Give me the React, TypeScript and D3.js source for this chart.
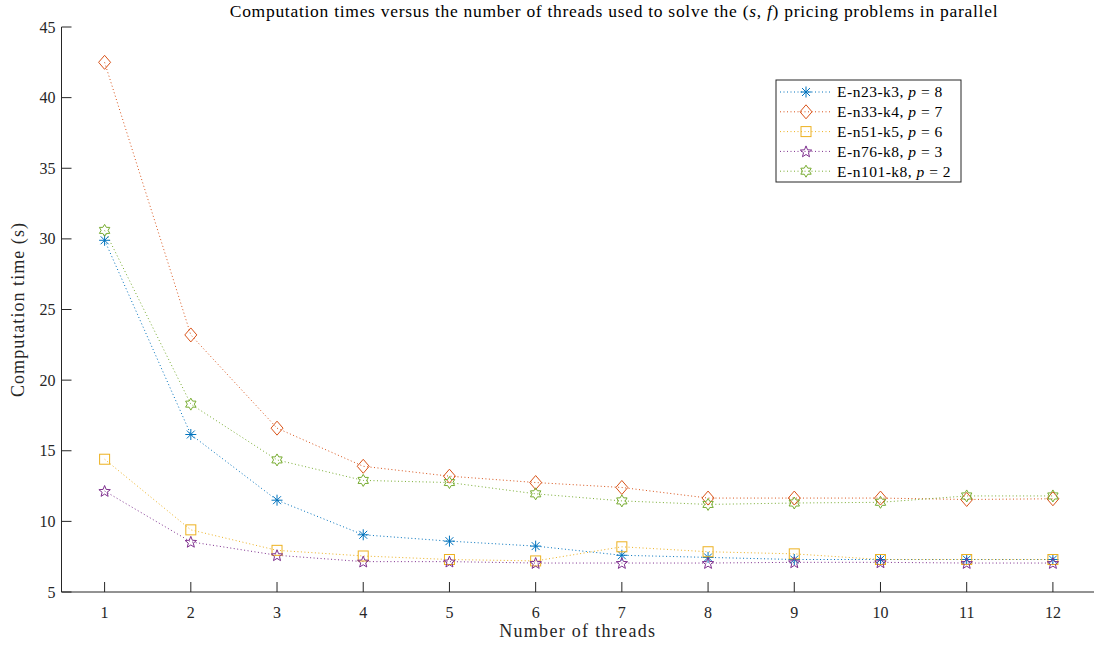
import React from "react";
import * as d3 from "d3";

const threads = [1, 2, 3, 4, 5, 6, 7, 8, 9, 10, 11, 12];
const yTicks = [5, 10, 15, 20, 25, 30, 35, 40, 45];
const seriesNames = ["E-n23-k3", "E-n33-k4", "E-n51-k5", "E-n76-k8", "E-n101-k8"];
const seriesP = [8, 7, 6, 3, 2];
const seriesColors = ["#0072BD", "#D95319", "#EDB120", "#7E2F8E", "#77AC30"];
const seriesMarkers = ["asterisk", "diamond", "square", "pentagram", "hexagram"];
const sN23 = [29.9, 16.15, 11.5, 9.05, 8.6, 8.25, 7.6, 7.45, 7.3, 7.3, 7.3, 7.3];
const sN33 = [42.5, 23.2, 16.6, 13.9, 13.2, 12.75, 12.4, 11.65, 11.65, 11.65, 11.55, 11.6];
const sN51 = [14.4, 9.4, 7.95, 7.55, 7.3, 7.2, 8.2, 7.85, 7.7, 7.3, 7.3, 7.3];
const sN76 = [12.15, 8.55, 7.6, 7.15, 7.15, 7.05, 7.05, 7.05, 7.1, 7.1, 7.05, 7.05];
const sN101 = [30.6, 18.3, 14.35, 12.9, 12.75, 11.95, 11.45, 11.2, 11.3, 11.35, 11.8, 11.8];
const seriesValues = [sN23, sN33, sN51, sN76, sN101];

const FONT = "'Liberation Serif', 'DejaVu Serif', serif";
const AX = "#262626";

function starPath(n: number, ro: number, ri: number) {
  const pts: [number, number][] = [];
  for (let i = 0; i < 2 * n; i++) {
    const a = -Math.PI / 2 + (i * Math.PI) / n;
    const r = i % 2 === 0 ? ro : ri;
    pts.push([r * Math.cos(a), r * Math.sin(a)]);
  }
  return "M" + pts.map((p) => p[0].toFixed(2) + "," + p[1].toFixed(2)).join("L") + "Z";
}

function Marker({ type, x, y, color }: { type: string; x: number; y: number; color: string }) {
  const common = { fill: "none", stroke: color, strokeWidth: 1 };
  if (type === "asterisk") {
    const r = 5.5;
    const d = r * 0.72;
    return (
      <g transform={`translate(${x},${y})`} {...common}>
        <line x1={0} y1={-r} x2={0} y2={r} />
        <line x1={-r} y1={0} x2={r} y2={0} />
        <line x1={-d} y1={-d} x2={d} y2={d} />
        <line x1={-d} y1={d} x2={d} y2={-d} />
      </g>
    );
  }
  if (type === "diamond") {
    return <path transform={`translate(${x},${y})`} d="M0,-7L6,0L0,7L-6,0Z" {...common} />;
  }
  if (type === "square") {
    return <rect x={x - 5} y={y - 5} width={10} height={10} {...common} />;
  }
  if (type === "pentagram") {
    return <path transform={`translate(${x},${y + 0.5})`} d={starPath(5, 6, 2.6)} {...common} />;
  }
  return <path transform={`translate(${x},${y})`} d={starPath(6, 6, 3.5)} {...common} />;
}

export default function App() {
  const W = 1094;
  const H = 648;
  const left = 61.5;
  const right = 1096;
  const top = 27;
  const bottom = 592;
  const x = d3.scaleLinear().domain([0.5, 12.5]).range([left, right]);
  const y = d3.scaleLinear().domain([5, 45]).range([bottom, top]);
  const line = d3
    .line<number>()
    .x((_, i) => x(threads[i]))
    .y((v) => y(v));

  const legX = 776;
  const legY = 80;
  const legW = 185;
  const legH = 102;
  const rowY = (i: number) => legY + 12 + i * 19.8;

  return (
    <svg
      width={W}
      height={H}
      style={{ position: "absolute", left: 0, top: 0, background: "#fff" }}
      fontFamily={FONT}
    >
      <rect width={W} height={H} fill="#fff" />
      {seriesValues.map((vals, si) => (
        <path
          key={"l" + si}
          d={line(vals) || ""}
          fill="none"
          stroke={seriesColors[si]}
          strokeWidth={1}
          strokeDasharray="1,2.5"
        />
      ))}
      {seriesValues.map((vals, si) =>
        vals.map((v, i) => (
          <Marker key={"m" + si + "-" + i} type={seriesMarkers[si]} x={x(threads[i])} y={y(v)} color={seriesColors[si]} />
        ))
      )}
      <line x1={left} y1={top} x2={left} y2={bottom} stroke={AX} strokeWidth={1} />
      <line x1={left} y1={bottom} x2={W} y2={bottom} stroke={AX} strokeWidth={1} />
      {yTicks.map((t) => (
        <g key={"yt" + t}>
          <line x1={left} x2={left + 10} y1={y(t)} y2={y(t)} stroke={AX} strokeWidth={1} />
          <text x={left - 6} y={y(t)} dy="0.35em" textAnchor="end" fontSize={16} fill={AX}>
            {t}
          </text>
        </g>
      ))}
      {threads.map((t) => (
        <g key={"xt" + t}>
          <line x1={x(t)} x2={x(t)} y1={bottom} y2={bottom - 10} stroke={AX} strokeWidth={1} />
          <text x={x(t)} y={bottom + 20} dy="0.35em" textAnchor="middle" fontSize={16} fill={AX}>
            {t}
          </text>
        </g>
      ))}
      <text x={(left + W) / 2} y={637} textAnchor="middle" fontSize={18} letterSpacing={1.3} fill={AX}>
        Number of threads
      </text>
      <text
        transform={`translate(24,${(top + bottom) / 2}) rotate(-90)`}
        textAnchor="middle"
        fontSize={18}
        letterSpacing={1.05}
        fill={AX}
      >
        Computation time (s)
      </text>
      <text x={614} y={17} textAnchor="middle" fontSize={17.5} letterSpacing={0.72} fill="#000">
        Computation times versus the number of threads used to solve the (<tspan fontStyle="italic">s</tspan>,{" "}
        <tspan fontStyle="italic">f</tspan>) pricing problems in parallel
      </text>
      <rect x={legX} y={legY} width={legW} height={legH} fill="#fff" stroke={AX} strokeWidth={1} />
      {seriesNames.map((n, i) => (
        <g key={"lg" + i}>
          <line
            x1={legX + 4}
            x2={legX + 56}
            y1={rowY(i)}
            y2={rowY(i)}
            stroke={seriesColors[i]}
            strokeWidth={1}
            strokeDasharray="1,2.5"
          />
          <Marker type={seriesMarkers[i]} x={legX + 30} y={rowY(i)} color={seriesColors[i]} />
          <text x={legX + 61} y={rowY(i)} dy="0.35em" fontSize={15.5} letterSpacing={0.5} fill="#000">
            {n}, <tspan fontStyle="italic">p</tspan> = {seriesP[i]}
          </text>
        </g>
      ))}
    </svg>
  );
}
